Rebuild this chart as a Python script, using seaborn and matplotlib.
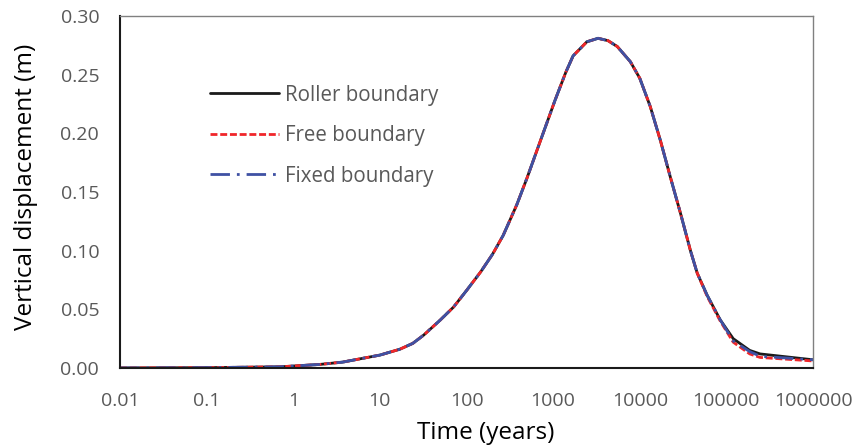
import numpy as np
import pandas as pd
import matplotlib
matplotlib.use("Agg")
import matplotlib.pyplot as plt
import seaborn as sns
from matplotlib.ticker import FixedLocator, FixedFormatter, NullLocator

# Data
time_years = [0.01, 0.1, 0.7, 2, 3.7, 10, 17, 24, 32, 50, 71, 100, 146, 200, 265, 380, 500, 708,
              1050, 1400, 1700, 2450, 3300, 4300, 5500, 7800, 10000, 13200, 17300, 22500, 29500,
              38500, 46000, 60000, 85000, 120000, 186000, 245000, 1000000]
roller = [0.0, 0.0003, 0.001, 0.003, 0.005, 0.011, 0.016, 0.021, 0.028, 0.041, 0.052, 0.066, 0.082,
          0.097, 0.113, 0.139, 0.162, 0.193, 0.228, 0.252, 0.266, 0.278, 0.281, 0.279, 0.274, 0.261,
          0.247, 0.223, 0.194, 0.163, 0.132, 0.100, 0.081, 0.062, 0.041, 0.025, 0.015, 0.012, 0.007]
free = [0.0, 0.0003, 0.001, 0.003, 0.005, 0.011, 0.016, 0.021, 0.028, 0.041, 0.052, 0.066, 0.082,
        0.097, 0.113, 0.139, 0.162, 0.193, 0.228, 0.252, 0.266, 0.278, 0.281, 0.279, 0.274, 0.261,
        0.247, 0.223, 0.194, 0.163, 0.132, 0.100, 0.081, 0.061, 0.040, 0.022, 0.012, 0.009, 0.006]
fixed = [0.0, 0.0003, 0.001, 0.003, 0.005, 0.011, 0.016, 0.021, 0.028, 0.041, 0.052, 0.066, 0.082,
         0.097, 0.113, 0.139, 0.162, 0.193, 0.228, 0.252, 0.266, 0.278, 0.281, 0.279, 0.274, 0.261,
         0.247, 0.223, 0.194, 0.163, 0.132, 0.100, 0.081, 0.062, 0.041, 0.023, 0.014, 0.010, 0.007]
series_names = ["Roller boundary", "Free boundary", "Fixed boundary"]
x_ticks = [0.01, 0.1, 1, 10, 100, 1000, 10000, 100000, 1000000]
x_tick_labels = ["0.01", "0.1", "1", "10", "100", "1000", "10000", "100000", "1000000"]
y_ticks = [0.0, 0.05, 0.10, 0.15, 0.20, 0.25, 0.30]

sns.set_style("white")
plt.rcParams['font.family'] = ['Open Sans', 'DejaVu Sans']

fig = plt.figure(figsize=(8.57, 4.48), dpi=100)
ax = fig.add_axes([120/857, 80/448, (813-120)/857, (368-16)/448])

styles = [
    dict(color="#1a1a1a", dashes=None),
    dict(color="#f0262a", dashes=(2.5, 1.0)),
    dict(color="#3f51a3", dashes=(7, 2.5, 1, 2.5)),
]
for name, vals, st in zip(series_names, [roller, free, fixed], styles):
    df = pd.DataFrame({"t": time_years, "y": vals})
    line_ax = sns.lineplot(data=df, x="t", y="y", ax=ax, color=st["color"],
                           linewidth=2.0, label=name, sort=False)
    ln = line_ax.get_lines()[-1]
    if st["dashes"] is not None:
        ln.set_dashes(st["dashes"])

ax.set_xscale("log")
ax.set_xlim(0.01, 1000000)
ax.set_ylim(0, 0.30)
ax.xaxis.set_major_locator(FixedLocator(x_ticks))
ax.xaxis.set_major_formatter(FixedFormatter(x_tick_labels))
ax.xaxis.set_minor_locator(NullLocator())
ax.set_yticks(y_ticks)
ax.set_yticklabels([f"{v:.2f}" for v in y_ticks])

ax.tick_params(axis="both", which="major", direction="in", length=5, width=1,
               colors="#595959", labelsize=14, labelcolor="#595959")
ax.tick_params(axis="x", pad=17)
ax.tick_params(axis="y", pad=15)
ax.tick_params(top=False, right=False)

for side in ["left", "bottom"]:
    ax.spines[side].set_color("#1a1a1a")
    ax.spines[side].set_linewidth(1.5)
for side in ["top", "right"]:
    ax.spines[side].set_color("#808080")
    ax.spines[side].set_linewidth(1.0)

ax.set_xlabel("Time (years)", fontsize=17.5, color="#000000")
ax.set_ylabel("Vertical displacement (m)", fontsize=17.5, color="#000000")
ax.xaxis.set_label_coords((486-120)/693, -(433-368)/352, transform=ax.transAxes)
ax.yaxis.set_label_coords(-(120-26)/693, (368-187)/352, transform=ax.transAxes)
ax.xaxis.label.set_va("center")
ax.yaxis.label.set_va("center")

leg = ax.legend(loc="upper left", bbox_to_anchor=(191/857, 1 - 66/448),
                bbox_transform=fig.transFigure, frameon=False, fontsize=14.8,
                handlelength=3.4, labelspacing=0.95, handletextpad=0.25)
for t in leg.get_texts():
    t.set_color("#595959")

fig.savefig("out.png", dpi=100)
